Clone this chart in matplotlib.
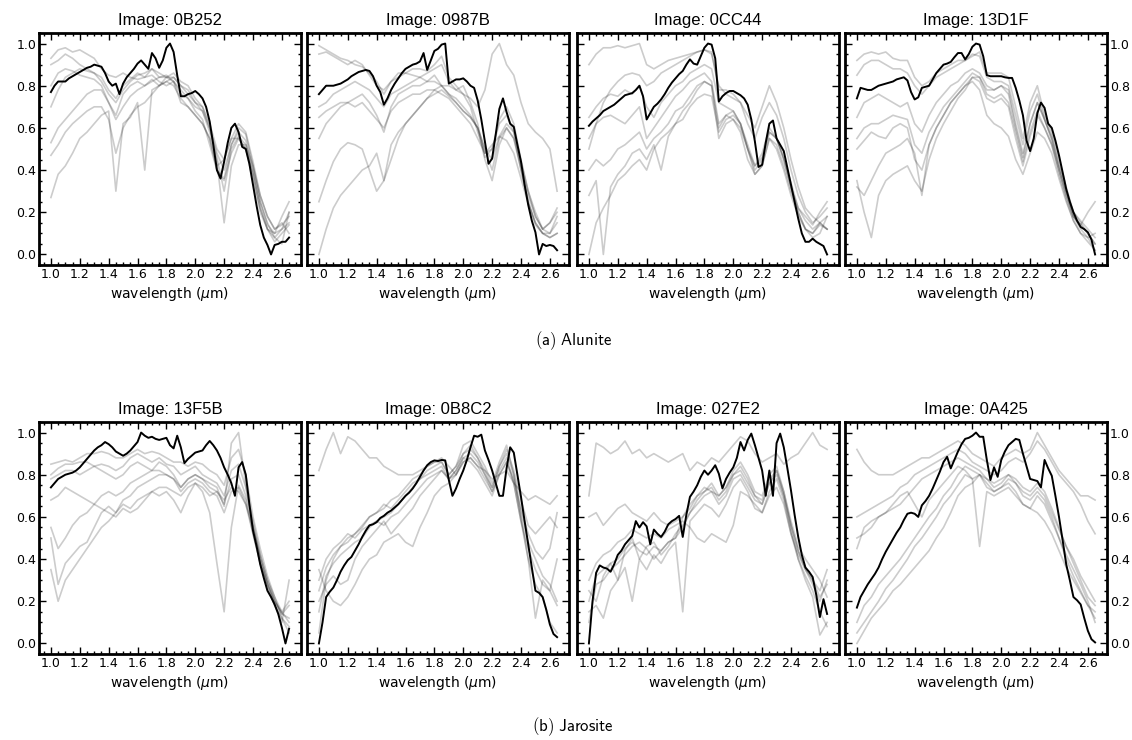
import numpy as np
import matplotlib
matplotlib.use("Agg")
import matplotlib.pyplot as plt
from matplotlib.ticker import MultipleLocator

# wavelength grids (um)
wl_black = np.round(np.arange(1.0, 2.6501, 0.025), 3)
wl_grey = np.round(np.arange(1.0, 2.6501, 0.05), 2)

# -----------------------------------
# (a) Alunite
# -----------------------------------
titles_alunite = ["0B252", "0987B", "0CC44", "13D1F"]

black_0B252 = [0.77, 0.80, 0.82, 0.82, 0.82, 0.835, 0.845, 0.855, 0.865, 0.875,
               0.885, 0.89, 0.90, 0.895, 0.89, 0.86, 0.82, 0.80, 0.81, 0.76,
               0.81, 0.84, 0.86, 0.88, 0.905, 0.92, 0.90, 0.88, 0.955, 0.93,
               0.885, 0.92, 0.98, 1.00, 0.96, 0.85, 0.75, 0.75, 0.76, 0.765,
               0.775, 0.76, 0.74, 0.70, 0.63, 0.52, 0.40, 0.36, 0.44, 0.53,
               0.60, 0.62, 0.58, 0.51, 0.50, 0.43, 0.33, 0.23, 0.14, 0.08,
               0.045, 0.00, 0.045, 0.05, 0.06, 0.06, 0.08]
grey_0B252 = [
    [0.93, 0.97, 0.98, 0.96, 0.97, 0.95, 0.93, 0.88, 0.85, 0.84, 0.86, 0.84, 0.83, 0.84, 0.85, 0.82, 0.80,
     0.82, 0.72, 0.70, 0.66, 0.62, 0.55, 0.42, 0.45, 0.55, 0.55, 0.50, 0.35, 0.20, 0.12, 0.10, 0.12, 0.15],
    [0.90, 0.92, 0.95, 0.93, 0.90, 0.88, 0.86, 0.84, 0.78, 0.74, 0.80, 0.83, 0.86, 0.84, 0.88, 0.84, 0.85,
     0.82, 0.78, 0.74, 0.70, 0.68, 0.60, 0.48, 0.40, 0.52, 0.58, 0.54, 0.40, 0.25, 0.15, 0.08, 0.05, 0.20],
    [0.80, 0.86, 0.88, 0.87, 0.85, 0.84, 0.83, 0.80, 0.72, 0.66, 0.76, 0.80, 0.82, 0.80, 0.83, 0.80, 0.82,
     0.84, 0.80, 0.76, 0.72, 0.68, 0.58, 0.44, 0.15, 0.42, 0.52, 0.52, 0.42, 0.28, 0.18, 0.12, 0.15, 0.10],
    [0.27, 0.38, 0.42, 0.48, 0.55, 0.58, 0.62, 0.66, 0.68, 0.30, 0.62, 0.65, 0.72, 0.40, 0.78, 0.80, 0.82,
     0.80, 0.74, 0.70, 0.66, 0.62, 0.55, 0.40, 0.35, 0.48, 0.55, 0.50, 0.38, 0.22, 0.12, 0.06, 0.10, 0.14],
    [0.47, 0.52, 0.58, 0.62, 0.65, 0.68, 0.70, 0.70, 0.64, 0.48, 0.60, 0.66, 0.70, 0.72, 0.76, 0.80, 0.84,
     0.86, 0.82, 0.80, 0.74, 0.70, 0.60, 0.46, 0.30, 0.50, 0.56, 0.52, 0.38, 0.22, 0.12, 0.08, 0.12, 0.20],
    [0.53, 0.60, 0.64, 0.68, 0.72, 0.76, 0.78, 0.78, 0.72, 0.64, 0.70, 0.75, 0.78, 0.80, 0.82, 0.84, 0.84,
     0.82, 0.76, 0.74, 0.68, 0.64, 0.52, 0.40, 0.36, 0.52, 0.60, 0.57, 0.42, 0.25, 0.14, 0.10, 0.18, 0.25],
    [0.70, 0.78, 0.84, 0.86, 0.88, 0.87, 0.86, 0.82, 0.76, 0.72, 0.78, 0.82, 0.85, 0.86, 0.88, 0.86, 0.84,
     0.84, 0.80, 0.78, 0.72, 0.70, 0.62, 0.50, 0.45, 0.55, 0.62, 0.58, 0.44, 0.28, 0.18, 0.12, 0.14, 0.18],
]

black_0987B = [0.76, 0.78, 0.80, 0.80, 0.80, 0.805, 0.81, 0.82, 0.83, 0.845,
               0.855, 0.865, 0.87, 0.875, 0.87, 0.845, 0.80, 0.77, 0.71, 0.74,
               0.78, 0.81, 0.835, 0.86, 0.88, 0.89, 0.90, 0.905, 0.915, 0.955,
               0.875, 0.92, 0.965, 0.975, 0.995, 1.00, 0.81, 0.82, 0.83, 0.83,
               0.835, 0.82, 0.80, 0.79, 0.73, 0.64, 0.535, 0.43, 0.455, 0.57,
               0.69, 0.74, 0.675, 0.62, 0.605, 0.52, 0.44, 0.33, 0.235, 0.16,
               0.105, 0.00, 0.05, 0.04, 0.045, 0.04, 0.02]
grey_0987B = [
    [0.99, 0.97, 0.95, 0.93, 0.92, 0.90, 0.89, 0.86, 0.82, 0.76, 0.82, 0.86, 0.86, 0.88, 0.88, 0.87, 0.90,
     0.94, 0.84, 0.80, 0.76, 0.70, 0.58, 0.48, 0.50, 0.62, 0.66, 0.58, 0.40, 0.25, 0.14, 0.10, 0.08, 0.10],
    [0.95, 0.96, 0.94, 0.92, 0.90, 0.92, 0.90, 0.85, 0.80, 0.78, 0.82, 0.84, 0.86, 0.85, 0.84, 0.86, 0.88,
     0.90, 0.82, 0.78, 0.80, 0.72, 0.62, 0.46, 0.50, 0.64, 0.70, 0.62, 0.45, 0.30, 0.18, 0.12, 0.10, 0.15],
    [0.70, 0.72, 0.76, 0.78, 0.80, 0.82, 0.80, 0.78, 0.74, 0.70, 0.76, 0.78, 0.80, 0.82, 0.84, 0.82, 0.85,
     0.80, 0.80, 0.78, 0.76, 0.74, 0.70, 0.78, 0.95, 1.00, 0.90, 0.85, 0.72, 0.62, 0.58, 0.55, 0.50, 0.30],
    [0.65, 0.68, 0.70, 0.72, 0.72, 0.70, 0.72, 0.68, 0.64, 0.60, 0.68, 0.72, 0.74, 0.76, 0.76, 0.78, 0.78,
     0.76, 0.74, 0.70, 0.66, 0.62, 0.55, 0.48, 0.52, 0.56, 0.54, 0.48, 0.36, 0.24, 0.15, 0.10, 0.08, 0.10],
    [0.00, 0.12, 0.22, 0.28, 0.32, 0.36, 0.40, 0.42, 0.48, 0.35, 0.52, 0.58, 0.62, 0.66, 0.70, 0.74, 0.76,
     0.78, 0.75, 0.72, 0.68, 0.65, 0.60, 0.50, 0.40, 0.55, 0.60, 0.55, 0.42, 0.28, 0.18, 0.12, 0.15, 0.20],
    [0.25, 0.35, 0.44, 0.50, 0.53, 0.52, 0.50, 0.40, 0.30, 0.35, 0.45, 0.55, 0.62, 0.66, 0.70, 0.74, 0.78,
     0.80, 0.76, 0.72, 0.68, 0.65, 0.60, 0.45, 0.35, 0.52, 0.60, 0.55, 0.40, 0.25, 0.15, 0.10, 0.10, 0.18],
    [0.55, 0.62, 0.66, 0.70, 0.72, 0.74, 0.76, 0.72, 0.66, 0.58, 0.70, 0.76, 0.78, 0.80, 0.80, 0.82, 0.82,
     0.80, 0.76, 0.74, 0.70, 0.66, 0.60, 0.50, 0.45, 0.56, 0.62, 0.58, 0.44, 0.30, 0.20, 0.12, 0.15, 0.22],
]

black_0CC44 = [0.61, 0.63, 0.645, 0.66, 0.68, 0.69, 0.70, 0.71, 0.725, 0.74,
               0.755, 0.76, 0.765, 0.78, 0.80, 0.75, 0.64, 0.67, 0.70, 0.715,
               0.735, 0.76, 0.79, 0.815, 0.835, 0.855, 0.87, 0.90, 0.925, 0.905,
               0.90, 0.94, 0.98, 1.00, 0.995, 0.93, 0.725, 0.75, 0.765, 0.775,
               0.775, 0.765, 0.755, 0.74, 0.71, 0.64, 0.535, 0.415, 0.425, 0.53,
               0.62, 0.635, 0.55, 0.52, 0.49, 0.41, 0.33, 0.25, 0.17, 0.10,
               0.06, 0.06, 0.075, 0.06, 0.05, 0.04, 0.00]
grey_0CC44 = [
    [0.90, 0.95, 0.98, 0.98, 0.99, 0.98, 0.99, 1.00, 0.90, 0.88, 0.90, 0.92, 0.93, 0.94, 0.95, 0.96, 0.97,
     0.95, 0.80, 0.76, 0.74, 0.72, 0.66, 0.60, 0.70, 0.80, 0.72, 0.60, 0.45, 0.32, 0.22, 0.18, 0.15, 0.12],
    [0.50, 0.62, 0.72, 0.78, 0.82, 0.85, 0.86, 0.85, 0.80, 0.82, 0.86, 0.88, 0.90, 0.92, 0.94, 0.96, 0.97,
     0.96, 0.78, 0.78, 0.76, 0.72, 0.62, 0.55, 0.65, 0.72, 0.66, 0.55, 0.40, 0.28, 0.20, 0.15, 0.18, 0.22],
    [0.65, 0.70, 0.74, 0.76, 0.75, 0.78, 0.76, 0.80, 0.70, 0.65, 0.72, 0.76, 0.80, 0.82, 0.86, 0.88, 0.90,
     0.88, 0.72, 0.70, 0.68, 0.62, 0.52, 0.42, 0.48, 0.60, 0.55, 0.45, 0.32, 0.20, 0.12, 0.10, 0.15, 0.12],
    [0.55, 0.62, 0.65, 0.66, 0.64, 0.62, 0.66, 0.70, 0.55, 0.60, 0.65, 0.70, 0.75, 0.78, 0.82, 0.84, 0.86,
     0.82, 0.62, 0.66, 0.64, 0.58, 0.45, 0.38, 0.42, 0.55, 0.50, 0.40, 0.28, 0.18, 0.12, 0.08, 0.10, 0.18],
    [0.40, 0.45, 0.42, 0.45, 0.50, 0.52, 0.55, 0.58, 0.50, 0.55, 0.58, 0.62, 0.68, 0.70, 0.75, 0.80, 0.82,
     0.80, 0.55, 0.62, 0.64, 0.60, 0.50, 0.40, 0.45, 0.58, 0.55, 0.45, 0.32, 0.22, 0.16, 0.12, 0.15, 0.18],
    [0.00, 0.15, 0.22, 0.28, 0.35, 0.38, 0.42, 0.45, 0.40, 0.50, 0.55, 0.58, 0.62, 0.68, 0.72, 0.78, 0.82,
     0.80, 0.60, 0.66, 0.68, 0.62, 0.50, 0.38, 0.42, 0.55, 0.52, 0.42, 0.30, 0.20, 0.12, 0.10, 0.14, 0.12],
    [0.28, 0.35, 0.00, 0.32, 0.38, 0.42, 0.48, 0.50, 0.45, 0.52, 0.40, 0.56, 0.62, 0.64, 0.70, 0.74, 0.76,
     0.75, 0.58, 0.64, 0.66, 0.62, 0.50, 0.42, 0.46, 0.58, 0.55, 0.46, 0.34, 0.22, 0.18, 0.14, 0.20, 0.25],
]

black_13D1F = [0.74, 0.79, 0.785, 0.78, 0.78, 0.79, 0.80, 0.805, 0.81, 0.815,
               0.82, 0.83, 0.835, 0.84, 0.825, 0.77, 0.735, 0.745, 0.79, 0.795,
               0.80, 0.83, 0.86, 0.88, 0.90, 0.905, 0.913, 0.935, 0.955, 0.955,
               0.925, 0.95, 0.985, 1.00, 0.995, 0.94, 0.85, 0.845, 0.845, 0.845,
               0.845, 0.84, 0.837, 0.837, 0.79, 0.73, 0.66, 0.54, 0.49, 0.55,
               0.67, 0.72, 0.695, 0.62, 0.60, 0.54, 0.47, 0.39, 0.31, 0.25,
               0.20, 0.16, 0.13, 0.12, 0.105, 0.07, 0.00]
grey_13D1F = [
    [0.92, 0.95, 0.96, 0.95, 0.96, 0.93, 0.92, 0.92, 0.84, 0.80, 0.82, 0.86, 0.88, 0.90, 0.92, 0.92, 0.94,
     0.96, 0.86, 0.86, 0.86, 0.84, 0.70, 0.55, 0.72, 0.80, 0.66, 0.58, 0.45, 0.32, 0.20, 0.15, 0.10, 0.05],
    [0.85, 0.90, 0.92, 0.92, 0.90, 0.88, 0.88, 0.86, 0.80, 0.76, 0.80, 0.84, 0.86, 0.88, 0.90, 0.92, 0.95,
     0.94, 0.84, 0.82, 0.82, 0.80, 0.66, 0.52, 0.68, 0.76, 0.64, 0.55, 0.42, 0.30, 0.18, 0.12, 0.08, 0.02],
    [0.65, 0.72, 0.74, 0.76, 0.74, 0.72, 0.70, 0.72, 0.62, 0.58, 0.66, 0.72, 0.76, 0.80, 0.82, 0.86, 0.88,
     0.86, 0.80, 0.78, 0.80, 0.78, 0.62, 0.48, 0.62, 0.72, 0.64, 0.56, 0.42, 0.30, 0.20, 0.16, 0.12, 0.08],
    [0.55, 0.60, 0.62, 0.62, 0.64, 0.66, 0.65, 0.64, 0.52, 0.48, 0.58, 0.64, 0.70, 0.74, 0.78, 0.82, 0.86,
     0.84, 0.76, 0.74, 0.76, 0.72, 0.58, 0.44, 0.58, 0.68, 0.60, 0.52, 0.40, 0.28, 0.18, 0.14, 0.10, 0.05],
    [0.50, 0.54, 0.58, 0.56, 0.55, 0.60, 0.62, 0.60, 0.45, 0.40, 0.52, 0.60, 0.66, 0.72, 0.76, 0.80, 0.82,
     0.78, 0.66, 0.62, 0.60, 0.56, 0.45, 0.38, 0.48, 0.58, 0.55, 0.48, 0.36, 0.25, 0.16, 0.10, 0.08, 0.10],
    [0.35, 0.20, 0.08, 0.28, 0.35, 0.38, 0.40, 0.42, 0.35, 0.30, 0.45, 0.55, 0.62, 0.68, 0.74, 0.78, 0.84,
     0.82, 0.74, 0.72, 0.74, 0.70, 0.55, 0.42, 0.56, 0.66, 0.60, 0.52, 0.38, 0.26, 0.16, 0.10, 0.06, 0.02],
    [0.32, 0.28, 0.35, 0.42, 0.48, 0.50, 0.52, 0.55, 0.48, 0.28, 0.52, 0.60, 0.66, 0.72, 0.76, 0.80, 0.84,
     0.84, 0.78, 0.78, 0.80, 0.76, 0.60, 0.46, 0.62, 0.72, 0.64, 0.54, 0.40, 0.28, 0.18, 0.14, 0.20, 0.25],
]

# -----------------------------------
# (b) Jarosite
# -----------------------------------
titles_jarosite = ["13F5B", "0B8C2", "027E2", "0A425"]

black_13F5B = [0.74, 0.76, 0.78, 0.79, 0.80, 0.805, 0.81, 0.82, 0.835, 0.855,
               0.875, 0.895, 0.915, 0.93, 0.94, 0.955, 0.945, 0.93, 0.91, 0.90,
               0.89, 0.90, 0.915, 0.935, 0.955, 1.00, 0.985, 0.975, 0.98, 0.97,
               0.965, 0.97, 0.975, 0.94, 0.925, 0.985, 0.93, 0.855, 0.875, 0.89,
               0.905, 0.91, 0.915, 0.94, 0.96, 0.94, 0.915, 0.88, 0.835, 0.80,
               0.76, 0.70, 0.835, 0.86, 0.80, 0.66, 0.535, 0.46, 0.375, 0.31,
               0.25, 0.22, 0.185, 0.14, 0.075, 0.00, 0.07]
grey_13F5B = [
    [0.85, 0.86, 0.87, 0.86, 0.88, 0.90, 0.90, 0.91, 0.90, 0.88, 0.88, 0.90, 0.92, 0.90, 0.91, 0.90, 0.88,
     0.86, 0.86, 0.84, 0.86, 0.85, 0.82, 0.80, 0.75, 0.88, 0.92, 0.80, 0.60, 0.45, 0.32, 0.22, 0.12, 0.05],
    [0.80, 0.83, 0.85, 0.85, 0.86, 0.86, 0.84, 0.85, 0.84, 0.82, 0.84, 0.88, 0.90, 0.88, 0.86, 0.88, 0.85,
     0.84, 0.80, 0.82, 0.84, 0.80, 0.78, 0.76, 0.70, 0.82, 0.85, 0.74, 0.58, 0.42, 0.30, 0.20, 0.15, 0.10],
    [0.78, 0.80, 0.82, 0.82, 0.80, 0.82, 0.84, 0.82, 0.80, 0.78, 0.80, 0.84, 0.86, 0.84, 0.82, 0.86, 0.84,
     0.80, 0.74, 0.78, 0.80, 0.78, 0.76, 0.74, 0.65, 0.95, 1.00, 0.75, 0.55, 0.40, 0.28, 0.18, 0.12, 0.08],
    [0.68, 0.70, 0.74, 0.72, 0.70, 0.68, 0.66, 0.64, 0.62, 0.60, 0.64, 0.62, 0.64, 0.68, 0.72, 0.70, 0.72,
     0.68, 0.62, 0.70, 0.76, 0.74, 0.70, 0.72, 0.68, 0.74, 0.72, 0.66, 0.55, 0.42, 0.30, 0.22, 0.15, 0.20],
    [0.35, 0.20, 0.30, 0.35, 0.40, 0.45, 0.50, 0.55, 0.58, 0.62, 0.66, 0.64, 0.68, 0.70, 0.72, 0.74, 0.74,
     0.72, 0.70, 0.74, 0.76, 0.72, 0.62, 0.38, 0.15, 0.55, 0.75, 0.68, 0.52, 0.38, 0.26, 0.18, 0.10, 0.30],
    [0.50, 0.28, 0.38, 0.42, 0.46, 0.48, 0.55, 0.62, 0.65, 0.62, 0.68, 0.70, 0.74, 0.76, 0.78, 0.80, 0.80,
     0.78, 0.72, 0.76, 0.78, 0.76, 0.72, 0.70, 0.62, 0.72, 0.74, 0.66, 0.52, 0.38, 0.28, 0.20, 0.14, 0.18],
    [0.55, 0.45, 0.50, 0.56, 0.60, 0.62, 0.66, 0.70, 0.72, 0.70, 0.72, 0.76, 0.78, 0.80, 0.82, 0.82, 0.80,
     0.78, 0.74, 0.78, 0.80, 0.78, 0.74, 0.72, 0.66, 0.78, 0.80, 0.70, 0.56, 0.40, 0.28, 0.20, 0.14, 0.12],
]

black_0B8C2 = [0.00, 0.10, 0.22, 0.245, 0.265, 0.30, 0.34, 0.37, 0.395, 0.41,
               0.44, 0.47, 0.505, 0.535, 0.56, 0.565, 0.575, 0.595, 0.605, 0.62,
               0.63, 0.645, 0.66, 0.68, 0.70, 0.715, 0.735, 0.76, 0.79, 0.82,
               0.845, 0.86, 0.868, 0.865, 0.87, 0.868, 0.775, 0.70, 0.735, 0.78,
               0.82, 0.87, 0.93, 0.985, 0.98, 0.99, 0.915, 0.87, 0.82, 0.76,
               0.70, 0.70, 0.83, 0.93, 0.905, 0.80, 0.695, 0.58, 0.47, 0.36,
               0.25, 0.24, 0.22, 0.16, 0.09, 0.045, 0.03]
grey_0B8C2 = [
    [0.82, 0.92, 1.00, 0.90, 0.98, 0.96, 0.92, 0.88, 0.88, 0.84, 0.82, 0.80, 0.80, 0.80, 0.82, 0.84, 0.86,
     0.88, 0.84, 0.80, 0.86, 0.88, 0.84, 0.82, 0.78, 0.80, 0.82, 0.76, 0.72, 0.68, 0.70, 0.68, 0.66, 0.70],
    [0.05, 0.30, 0.40, 0.46, 0.50, 0.52, 0.56, 0.60, 0.62, 0.64, 0.68, 0.70, 0.74, 0.78, 0.80, 0.84, 0.86,
     0.86, 0.80, 0.84, 0.94, 0.96, 0.90, 0.84, 0.76, 0.86, 0.94, 0.80, 0.60, 0.40, 0.28, 0.22, 0.10, 0.05],
    [0.30, 0.40, 0.45, 0.48, 0.52, 0.50, 0.54, 0.56, 0.58, 0.60, 0.62, 0.66, 0.70, 0.74, 0.78, 0.80, 0.82,
     0.84, 0.78, 0.82, 0.90, 0.92, 0.88, 0.80, 0.74, 0.84, 0.90, 0.80, 0.62, 0.48, 0.40, 0.32, 0.28, 0.20],
    [0.35, 0.25, 0.20, 0.18, 0.22, 0.28, 0.35, 0.40, 0.42, 0.48, 0.50, 0.52, 0.48, 0.46, 0.55, 0.62, 0.70,
     0.74, 0.76, 0.80, 0.88, 0.90, 0.86, 0.80, 0.72, 0.82, 0.88, 0.76, 0.58, 0.45, 0.35, 0.28, 0.25, 0.18],
    [0.20, 0.28, 0.32, 0.28, 0.30, 0.40, 0.46, 0.50, 0.54, 0.58, 0.52, 0.56, 0.60, 0.64, 0.70, 0.74, 0.78,
     0.82, 0.78, 0.82, 0.88, 0.86, 0.82, 0.76, 0.70, 0.80, 0.86, 0.76, 0.58, 0.40, 0.12, 0.30, 0.25, 0.40],
    [0.25, 0.36, 0.42, 0.46, 0.48, 0.52, 0.55, 0.60, 0.62, 0.66, 0.64, 0.68, 0.72, 0.76, 0.78, 0.82, 0.84,
     0.86, 0.80, 0.84, 0.90, 0.94, 0.88, 0.82, 0.74, 0.84, 0.92, 0.82, 0.68, 0.56, 0.52, 0.56, 0.60, 0.55],
    [0.15, 0.32, 0.38, 0.42, 0.45, 0.48, 0.50, 0.55, 0.58, 0.56, 0.60, 0.62, 0.66, 0.70, 0.74, 0.78, 0.80,
     0.82, 0.78, 0.80, 0.86, 0.88, 0.84, 0.78, 0.72, 0.80, 0.86, 0.78, 0.64, 0.52, 0.44, 0.40, 0.45, 0.62],
]

black_027E2 = [0.00, 0.20, 0.335, 0.37, 0.36, 0.355, 0.34, 0.375, 0.42, 0.44,
               0.47, 0.49, 0.51, 0.58, 0.55, 0.575, 0.555, 0.47, 0.54, 0.52,
               0.505, 0.53, 0.565, 0.58, 0.59, 0.605, 0.505, 0.61, 0.695, 0.72,
               0.75, 0.79, 0.82, 0.80, 0.82, 0.845, 0.805, 0.735, 0.78, 0.81,
               0.835, 0.88, 0.955, 0.915, 0.965, 0.995, 0.94, 0.88, 0.82, 0.70,
               0.82, 0.70, 0.95, 0.995, 0.93, 0.83, 0.725, 0.61, 0.505, 0.42,
               0.36, 0.34, 0.315, 0.23, 0.125, 0.21, 0.14]
grey_027E2 = [
    [0.70, 0.95, 0.93, 0.90, 0.92, 0.96, 0.90, 0.92, 0.88, 0.90, 0.88, 0.86, 0.88, 0.90, 0.82, 0.86, 0.84,
     0.88, 0.86, 0.90, 0.94, 0.98, 0.96, 0.90, 0.86, 0.88, 0.90, 0.85, 0.88, 0.90, 0.95, 1.00, 0.94, 0.92],
    [0.60, 0.62, 0.56, 0.60, 0.64, 0.66, 0.62, 0.60, 0.58, 0.62, 0.58, 0.56, 0.58, 0.60, 0.64, 0.70, 0.74,
     0.72, 0.70, 0.74, 0.82, 0.86, 0.80, 0.72, 0.70, 0.80, 0.84, 0.72, 0.58, 0.46, 0.40, 0.35, 0.30, 0.22],
    [0.10, 0.28, 0.30, 0.35, 0.38, 0.42, 0.46, 0.48, 0.45, 0.40, 0.44, 0.48, 0.50, 0.60, 0.66, 0.70, 0.72,
     0.76, 0.70, 0.74, 0.80, 0.84, 0.78, 0.70, 0.68, 0.78, 0.82, 0.70, 0.54, 0.40, 0.32, 0.25, 0.15, 0.08],
    [0.25, 0.20, 0.32, 0.38, 0.30, 0.44, 0.50, 0.40, 0.46, 0.48, 0.42, 0.46, 0.52, 0.56, 0.62, 0.66, 0.70,
     0.72, 0.66, 0.70, 0.78, 0.80, 0.74, 0.68, 0.66, 0.76, 0.80, 0.70, 0.56, 0.44, 0.35, 0.28, 0.20, 0.30],
    [0.15, 0.18, 0.12, 0.25, 0.30, 0.36, 0.20, 0.40, 0.35, 0.42, 0.38, 0.44, 0.48, 0.15, 0.58, 0.62, 0.66,
     0.64, 0.60, 0.66, 0.74, 0.78, 0.72, 0.64, 0.62, 0.72, 0.78, 0.68, 0.52, 0.40, 0.30, 0.22, 0.04, 0.10],
    [0.30, 0.38, 0.42, 0.44, 0.48, 0.50, 0.54, 0.52, 0.50, 0.52, 0.50, 0.54, 0.56, 0.58, 0.55, 0.50, 0.48,
     0.52, 0.50, 0.48, 0.56, 0.72, 0.70, 0.66, 0.62, 0.70, 0.74, 0.66, 0.52, 0.42, 0.35, 0.30, 0.25, 0.35],
    [0.20, 0.32, 0.35, 0.38, 0.40, 0.45, 0.48, 0.44, 0.42, 0.46, 0.44, 0.48, 0.50, 0.55, 0.62, 0.68, 0.72,
     0.74, 0.68, 0.72, 0.80, 0.82, 0.76, 0.70, 0.66, 0.76, 0.82, 0.72, 0.56, 0.44, 0.36, 0.30, 0.22, 0.28],
]

black_0A425 = [0.17, 0.22, 0.25, 0.28, 0.305, 0.33, 0.36, 0.40, 0.435, 0.465,
               0.495, 0.525, 0.55, 0.585, 0.615, 0.62, 0.615, 0.60, 0.655, 0.675,
               0.70, 0.735, 0.775, 0.815, 0.86, 0.885, 0.83, 0.87, 0.91, 0.945,
               0.97, 0.975, 0.985, 1.00, 0.98, 0.98, 0.87, 0.775, 0.835, 0.79,
               0.87, 0.91, 0.94, 0.955, 0.97, 0.965, 0.90, 0.84, 0.78, 0.775,
               0.77, 0.74, 0.87, 0.83, 0.795, 0.70, 0.60, 0.49, 0.375, 0.30,
               0.22, 0.205, 0.185, 0.12, 0.06, 0.02, 0.005]
grey_0A425 = [
    [0.92, 0.86, 0.82, 0.80, 0.80, 0.80, 0.82, 0.84, 0.86, 0.88, 0.88, 0.90, 0.92, 0.94, 0.96, 0.94, 0.90,
     0.88, 0.86, 0.84, 0.88, 0.90, 0.92, 0.90, 0.92, 1.00, 0.94, 0.88, 0.82, 0.78, 0.74, 0.70, 0.70, 0.68],
    [0.60, 0.62, 0.64, 0.66, 0.68, 0.70, 0.74, 0.76, 0.80, 0.82, 0.84, 0.86, 0.88, 0.90, 0.92, 0.90, 0.86,
     0.84, 0.82, 0.80, 0.82, 0.86, 0.88, 0.86, 0.90, 0.96, 0.92, 0.86, 0.80, 0.76, 0.72, 0.66, 0.58, 0.52],
    [0.50, 0.52, 0.55, 0.60, 0.62, 0.66, 0.70, 0.72, 0.66, 0.60, 0.68, 0.72, 0.76, 0.80, 0.84, 0.82, 0.78,
     0.80, 0.74, 0.72, 0.74, 0.76, 0.72, 0.66, 0.64, 0.62, 0.58, 0.52, 0.44, 0.36, 0.30, 0.24, 0.18, 0.12],
    [0.00, 0.06, 0.12, 0.16, 0.20, 0.25, 0.28, 0.32, 0.36, 0.40, 0.44, 0.50, 0.55, 0.62, 0.70, 0.74, 0.76,
     0.80, 0.76, 0.72, 0.74, 0.78, 0.76, 0.70, 0.68, 0.72, 0.68, 0.60, 0.50, 0.40, 0.32, 0.25, 0.18, 0.15],
    [0.05, 0.10, 0.15, 0.20, 0.26, 0.30, 0.35, 0.40, 0.46, 0.50, 0.55, 0.60, 0.66, 0.70, 0.75, 0.80, 0.78,
     0.46, 0.72, 0.70, 0.72, 0.74, 0.70, 0.66, 0.64, 0.70, 0.66, 0.58, 0.50, 0.42, 0.35, 0.28, 0.20, 0.10],
    [0.10, 0.18, 0.22, 0.28, 0.32, 0.36, 0.40, 0.45, 0.50, 0.55, 0.60, 0.64, 0.70, 0.74, 0.80, 0.84, 0.82,
     0.80, 0.78, 0.74, 0.76, 0.80, 0.78, 0.74, 0.72, 0.76, 0.72, 0.64, 0.55, 0.46, 0.38, 0.30, 0.22, 0.18],
    [0.45, 0.55, 0.58, 0.60, 0.62, 0.64, 0.66, 0.70, 0.74, 0.78, 0.80, 0.82, 0.84, 0.86, 0.88, 0.86, 0.84,
     0.82, 0.78, 0.76, 0.78, 0.80, 0.76, 0.72, 0.70, 0.74, 0.70, 0.62, 0.54, 0.46, 0.40, 0.32, 0.26, 0.20],
]

rows = [
    (titles_alunite, [black_0B252, black_0987B, black_0CC44, black_13D1F],
     [grey_0B252, grey_0987B, grey_0CC44, grey_13D1F], r"$\mathsf{(a)\ Alunite}$"),
    (titles_jarosite, [black_13F5B, black_0B8C2, black_027E2, black_0A425],
     [grey_13F5B, grey_0B8C2, grey_027E2, grey_0A425], r"$\mathsf{(b)\ Jarosite}$"),
]

fig = plt.figure(figsize=(11.32, 7.40), dpi=100)

col_left = [39, 307, 577, 845]   # pixels
ax_w = 262
row_top = [33, 422]
ax_h = 232
caption_y = [341, 727]

for r, (titles, blacks, greys, caption) in enumerate(rows):
    for c in range(4):
        ax = fig.add_axes([col_left[c] / 1132, 1 - (row_top[r] + ax_h) / 740,
                           ax_w / 1132, ax_h / 740])
        for g in greys[c]:
            ax.plot(wl_grey, g, color="k", alpha=0.2, lw=1.2)
        ax.plot(wl_black, blacks[c], color="k", lw=1.4)

        ax.set_title("Image: " + titles[c], family="Liberation Sans", fontsize=12)
        ax.set_xlabel(r"wavelength ($\mu$m)", fontsize=10, labelpad=3)
        ax.xaxis.set_major_locator(MultipleLocator(0.2))
        ax.xaxis.set_minor_locator(MultipleLocator(0.05))
        ax.yaxis.set_major_locator(MultipleLocator(0.2))
        ax.yaxis.set_minor_locator(MultipleLocator(0.05))
        ax.tick_params(which="both", direction="in", top=True, right=True,
                       labelsize=9, width=1, pad=2)
        ax.tick_params(which="major", length=5)
        ax.tick_params(which="minor", length=2.5)
        ax.tick_params(axis="y", labelleft=(c == 0), labelright=(c == 3))
        for s in ax.spines.values():
            s.set_linewidth(2)

    fig.text(573 / 1132, 1 - caption_y[r] / 740, caption, ha="center", va="center",
             fontsize=12, math_fontfamily="cm")

fig.savefig("out.png", dpi=100)
